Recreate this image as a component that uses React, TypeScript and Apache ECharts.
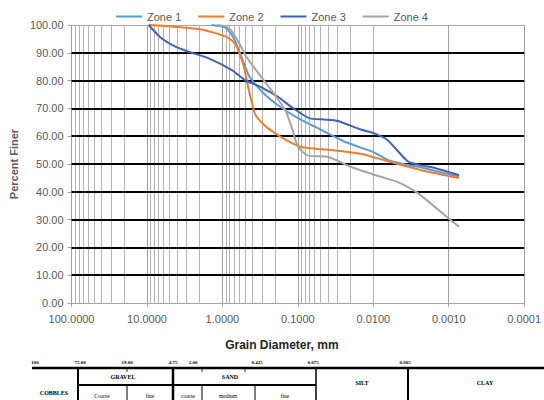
import React, { useEffect, useRef } from "react";
import * as echarts from "echarts";

// ---- Data (grain size in mm, percent finer) ----
const zoneNames = ["Zone 1", "Zone 2", "Zone 3", "Zone 4"];
const zoneColors = ["#5B9BD5", "#ED7D31", "#3F64B0", "#A5A5A5"];

const zone1: [number, number][] = [
  [1.4, 100], [0.9, 99], [0.7, 95], [0.55, 88], [0.45, 82], [0.35, 78], [0.25, 74],
  [0.17, 70.5], [0.1, 66.5], [0.06, 63.5], [0.04, 61], [0.024, 58], [0.015, 56],
  [0.0095, 54], [0.0065, 51.5], [0.004, 50], [0.0025, 49], [0.0015, 47.5], [0.00073, 45.5],
];
const zone2: [number, number][] = [
  [9.5, 100], [4.75, 99.5], [2, 98.5], [1.2, 97], [0.85, 95.5], [0.69, 93.5], [0.6, 90],
  [0.52, 85], [0.45, 77], [0.37, 68], [0.28, 64], [0.2, 61], [0.14, 58.5], [0.093, 56.2],
  [0.06, 55.5], [0.036, 55], [0.0138, 53.5], [0.0061, 50.8], [0.0021, 47.5], [0.00073, 45],
];
const zone3: [number, number][] = [
  [9.5, 100], [6.6, 95.5], [4.2, 92.2], [2.8, 90.4], [1.52, 88], [0.75, 83.8], [0.5, 80.2],
  [0.3, 77.5], [0.18, 74], [0.115, 70], [0.07, 66.4], [0.045, 66], [0.0294, 65.5],
  [0.015, 62.5], [0.0097, 61], [0.0065, 58.6], [0.0035, 51], [0.0024, 49.6], [0.0015, 48.5],
  [0.00073, 46],
];
const zone4: [number, number][] = [
  [1.18, 100], [0.91, 99.5], [0.76, 98], [0.56, 92], [0.48, 88.5], [0.3, 81], [0.225, 76.6],
  [0.147, 69.4], [0.12, 63], [0.099, 56], [0.073, 53], [0.04, 52.6], [0.02, 49], [0.008, 45.4],
  [0.0048, 43.6], [0.0026, 39.6], [0.00096, 30], [0.00073, 27.4],
];
const zones = [zone1, zone2, zone3, zone4];

const decades = [0.0001, 0.001, 0.01, 0.1, 1, 10];
const minorSteps = [2, 3, 4, 5, 6, 7, 8, 9];
const majorYLines = [10, 20, 30, 40, 50, 60, 70, 80, 90];

// Soil classification table (decoration under chart)
const sieveLabels = ["100", "75.00", "19.00", "4.75", "2.00", "0.425", "0.075", "0.005"];

export default function App() {
  const ref = useRef<HTMLDivElement>(null);

  useEffect(() => {
    document.body.style.margin = "0";
    if (!ref.current) return;
    const chart = echarts.init(ref.current, null, { renderer: "svg" });

    const minorGrid = decades.flatMap((d) =>
      minorSteps.map((k) => parseFloat((d * k).toPrecision(3)))
    );

    const serif = '"Liberation Serif", "DejaVu Serif", serif';
    const txt = (text: string, x: number, y: number, size = 6, weight = "bold") => ({
      type: "text",
      x,
      y,
      silent: true,
      style: {
        text,
        fill: "#000",
        font: `${weight} ${size}px ${serif}`,
        align: "center",
        verticalAlign: "middle",
      },
    });
    const ln = (x1: number, y1: number, x2: number, y2: number, w = 1.5) => ({
      type: "line",
      silent: true,
      shape: { x1, y1, x2, y2 },
      style: { stroke: "#000", lineWidth: w },
    });
    const labelX = [35, 80, 127, 173, 193, 257, 313, 405];

    const graphic: any[] = [
      ln(32, 368, 544, 368, 2.5),
      ln(78, 368, 78, 400, 2),
      ln(173, 368, 173, 400, 2.5),
      ln(316, 368, 316, 400, 1.5),
      ln(408, 368, 408, 400, 2),
      ln(78, 385, 316, 385, 2),
      ln(127, 385, 127, 400, 1),
      ln(202, 385, 202, 400, 1),
      ln(255, 385, 255, 400, 1),
      ln(127, 369, 127, 372, 0.8),
      ln(202, 369, 202, 372, 0.8),
      ln(245, 369, 245, 372, 0.8),
      ...sieveLabels.map((s, i) => txt(s, labelX[i], 362, 5)),
      txt("COBBLES", 54, 393, 6),
      txt("GRAVEL", 123, 377, 6),
      txt("SAND", 230, 377, 6),
      txt("SILT", 362, 383, 6),
      txt("CLAY", 485, 383, 6),
      txt("Coarse", 102, 396, 5.5, "normal"),
      txt("fine", 150, 396, 5.5, "normal"),
      txt("coarse", 188, 396, 5.5, "normal"),
      txt("medium", 228, 396, 5.5, "normal"),
      txt("fine", 285, 396, 5.5, "normal"),
    ];

    const sans = '"Liberation Sans", Arial, sans-serif';

    chart.setOption({
      animation: false,
      backgroundColor: "#fff",
      color: zoneColors,
      textStyle: { fontFamily: sans },
      legend: {
        data: zoneNames,
        top: 6,
        left: "center",
        icon: "rect",
        itemWidth: 26,
        itemHeight: 2,
        itemGap: 17,
        textStyle: { color: "#595959", fontSize: 11, fontFamily: sans },
      },
      grid: { left: 70, right: 17, top: 25, bottom: 97, containLabel: false },
      xAxis: {
        type: "log",
        logBase: 10,
        min: 0.0001,
        max: 100,
        inverse: true,
        name: "Grain Diameter, mm",
        nameLocation: "middle",
        nameGap: 36,
        nameTextStyle: {
          color: "#262626",
          fontSize: 12,
          fontWeight: "bold",
          fontFamily: sans,
          padding: [0, 32, 0, 0],
        },
        axisLine: { show: true, lineStyle: { color: "#A6A6A6", width: 1 } },
        axisTick: { show: true, length: 4, lineStyle: { color: "#A6A6A6" } },
        axisLabel: {
          color: "#595959",
          fontSize: 11,
          margin: 10,
          formatter: (v: number) => v.toFixed(4),
        },
        splitLine: { show: true, lineStyle: { color: "#A0A0A0", width: 1 } },
        minorTick: { show: false },
        minorSplitLine: { show: false },
      },
      yAxis: {
        type: "value",
        min: 0,
        max: 100,
        interval: 10,
        name: "Percent Finer",
        nameLocation: "middle",
        nameGap: 46,
        nameTextStyle: { color: "#595959", fontSize: 11, fontWeight: "bold", fontFamily: sans },
        axisLine: { show: false },
        axisTick: { show: true, length: 4, lineStyle: { color: "#A6A6A6" } },
        axisLabel: {
          color: "#595959",
          fontSize: 11,
          margin: 8,
          formatter: (v: number) => v.toFixed(2),
        },
        splitLine: { show: true, lineStyle: { color: "#A6A6A6", width: 1 } },
      },
      series: [
        {
          type: "line",
          name: "grid",
          data: [[1, 50]],
          showSymbol: false,
          symbol: "none",
          lineStyle: { opacity: 0 },
          silent: true,
          z: 1,
          markLine: {
            silent: true,
            symbol: "none",
            z: 1,
            animation: false,
            label: { show: false },
            lineStyle: { color: "#B4B4B4", width: 1, type: "solid" },
            data: [
              ...minorGrid.map((v) => ({ xAxis: v })),
              ...majorYLines.map((v) => ({
                yAxis: v,
                lineStyle: { color: "#000", width: 2, type: "solid" },
              })),
            ],
          },
        },
        ...zones.map((z, i) => ({
          type: "line",
          name: zoneNames[i],
          data: z,
          showSymbol: false,
          symbol: "none",
          smooth: 0.2,
          z: 3,
          lineStyle: { color: zoneColors[i], width: 2 },
          itemStyle: { color: zoneColors[i] },
        })),
      ],
      graphic,
    });

    return () => chart.dispose();
  }, []);

  return <div ref={ref} style={{ width: 544, height: 400 }} />;
}
